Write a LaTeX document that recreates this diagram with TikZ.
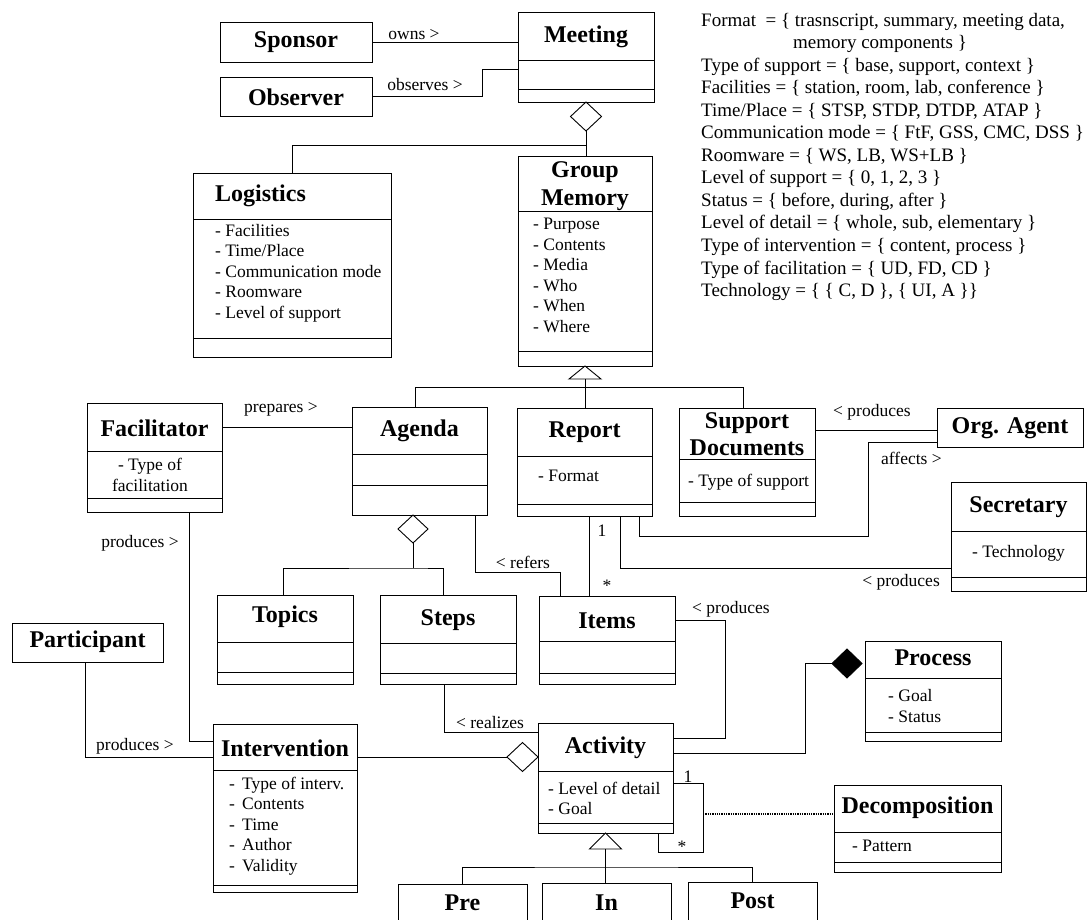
\documentclass[tikz,border=0pt]{standalone}
\usepackage{fontspec}
\setmainfont{Liberation Serif}
\usetikzlibrary{calc,shapes.geometric}
\tikzset{
  wire/.style={line width=0.9pt},
  box/.style={draw, line width=0.9pt, inner sep=0pt, outer sep=0pt, anchor=north west, rectangle},
  ttl/.style={font=\fontsize{24}{27.5}\selectfont\bfseries, inner sep=0pt, align=center},
  att/.style={font=\fontsize{17.5}{20.6}\selectfont, inner sep=0pt, anchor=west},
  lbl/.style={font=\fontsize{17.5}{20}\selectfont, inner sep=0pt},
  leg/.style={font=\fontsize{19}{22.5}\selectfont, inner sep=0pt, anchor=base west},
  agg/.style={draw, diamond, line width=0.9pt, fill=white, inner sep=0pt, outer sep=0pt, minimum width=31pt, minimum height=29pt},
  comp/.style={agg, fill=black},
}
\newcommand\umlbox[5]{\node[box, minimum width={#4-#2}, minimum height={#5-#3}] (#1) at (#2,#3) {};}
\newcommand\umldiv[2]{\foreach \divy in {#2} {\draw[wire] (#1.west |- 0,\divy) -- (#1.east |- 0,\divy);}}
\begin{document}
\begin{tikzpicture}[x=1pt,y=-1pt]
\useasboundingbox (0,0) rectangle (1089,920);
\clip (0,0) rectangle (1089,920);

% ---------- class boxes ----------
\umlbox{sponsor}{220}{22}{372}{62}
\umlbox{observer}{220}{77}{372}{116}
\umlbox{meeting}{518}{12}{654}{102} \umldiv{meeting}{60,89}
\umlbox{logistics}{193}{173}{391}{357} \umldiv{logistics}{219,338}
\umlbox{gm}{518}{156}{652}{366} \umldiv{gm}{211,351}
\umlbox{facilitator}{87}{403}{222}{512} \umldiv{facilitator}{451,498}
\umlbox{agenda}{352}{407}{487}{515} \umldiv{agenda}{454,485}
\umlbox{report}{517}{408}{652}{516} \umldiv{report}{456,504}
\umlbox{suppdoc}{679}{408}{815}{516} \umldiv{suppdoc}{459,502}
\umlbox{orgagent}{937}{408}{1083}{447}
\umlbox{secretary}{951}{482}{1086}{591} \umldiv{secretary}{531,577}
\umlbox{topics}{217}{595}{353}{684} \umldiv{topics}{642,672}
\umlbox{steps}{380}{595}{516}{684} \umldiv{steps}{643,673}
\umlbox{items}{539}{596}{675}{684} \umldiv{items}{641,673}
\umlbox{participant}{12}{623}{163}{662}
\umlbox{process}{865}{641}{1001}{741} \umldiv{process}{678,732}
\umlbox{intervention}{213}{724}{357}{892} \umldiv{intervention}{770,885}
\umlbox{activity}{538}{723}{673}{833} \umldiv{activity}{771,823}
\umlbox{decomp}{834}{785}{1001}{872} \umldiv{decomp}{832,862}
\umlbox{pre}{398}{884}{527}{960}
\umlbox{inph}{542}{883}{671}{960}
\umlbox{post}{688}{882}{817}{960}

% ---------- titles ----------
\node[ttl] (sponsor-t) at (296,42) {Sponsor};
\node[ttl] (observer-t) at (296,97) {Observer};
\node[ttl] (meeting-t) at (586,37) {Meeting};
\node[ttl, anchor=west] (logistics-t) at (215,196) {Logistics};
\node[ttl, font=\fontsize{24}{28}\selectfont\bfseries] (gm-t) at (585,186) {Group\\Memory};
\node[ttl] (facilitator-t) at (154.5,428) {Facilitator};
\node[ttl] (agenda-t) at (419.5,431) {Agenda};
\node[ttl] (report-t) at (584.5,432) {Report};
\node[ttl, font=\fontsize{24}{27}\selectfont\bfseries] (suppdoc-t) at (747,434) {Support\\Documents};
\node[ttl] (orgagent-t) at (1010,428) {Org. Agent};
\node[ttl] (secretary-t) at (1018.5,507) {Secretary};
\node[ttl] (topics-t) at (285,617) {Topics};
\node[ttl] (steps-t) at (448,620) {Steps};
\node[ttl] (items-t) at (607,621) {Items};
\node[ttl] (participant-t) at (87.5,642) {Participant};
\node[ttl] (process-t) at (933,658) {Process};
\node[ttl] (intervention-t) at (285,748) {Intervention};
\node[ttl] (activity-t) at (605.5,748) {Activity};
\node[ttl] (decomp-t) at (917.5,808) {Decomposition};
\node[ttl] (pre-t) at (462.5,903) {Pre};
\node[ttl] (in-t) at (606.5,903) {In};
\node[ttl] (post-t) at (752.5,901) {Post};

% ---------- attributes ----------
\node[att, align=left] (logistics-a) at (215,273) {- Facilities\\- Time/Place\\- Communication mode\\- Roomware\\- Level of support};
\node[att, align=left] (gm-a) at (533,275.5) {- Purpose\\- Contents\\- Media\\- Who\\- When\\- Where};
\node[att, align=center, anchor=center] (facilitator-a) at (150,475) {- Type of\\facilitation};
\node[att] (report-a) at (538,476) {- Format};
\node[att] (suppdoc-a) at (688,482) {- Type of support};
\node[att, anchor=center] (secretary-a) at (1018.5,553) {- Technology};
\node[att, align=left] (process-a) at (888,706) {- Goal\\- Status};
\node[att, align=left] (intervention-a) at (229,826) {-\hspace{7.2pt}Type of interv.\\-\hspace{7.2pt}Contents\\-\hspace{7.2pt}Time\\-\hspace{7.2pt}Author\\-\hspace{7.2pt}Validity};
\node[att, align=left] (activity-a) at (548,798.5) {- Level of detail\\- Goal};
\node[att] (decomp-a) at (852,846) {- Pattern};

% ---------- diamonds and triangles ----------
\node[agg] (mdia) at (586,116.5) {};
\node[agg, minimum width=30pt, minimum height=28pt] (adia) at (413,529) {};
\node[agg] (idia) at (522.5,757) {};
\node[comp, minimum width=30pt] (pdia) at (847,663.5) {};
\draw[wire, fill=white] (gm.south) -- ++(16,13) -- ++(-32,0) -- cycle;
\coordinate (gmtb) at ($(gm.south)+(0,13)$);
\draw[wire, fill=white] (activity.south) -- ++(16,16) -- ++(-32,0) -- cycle;
\coordinate (acttb) at ($(activity.south)+(0,16)$);

% ---------- connectors ----------
\draw[wire] (sponsor.east) -- (meeting.west |- sponsor.east);
\node[lbl] (owns-l) at (414,35) {owns >};
\draw[wire] (observer.east) -- ++(110,0) |- (meeting.west |- 0,69);
\node[lbl] (observes-l) at (425,85) {observes >};

\coordinate (mj) at ($(mdia.south)+(0,14)$);
\draw[wire] (mdia.south) -- (mj) -| (logistics.north);
\draw[wire] (mj) -- (mj |- gm.north);

\coordinate (ac) at ($(agenda.north)+(-4,0)$);
\coordinate (sdc) at ($(suppdoc.north)+(-4,0)$);
\draw[wire] (gmtb) -- (gmtb |- report.north);
\draw[wire] (ac) |- (sdc |- 0,387) -- (sdc);

\draw[wire] (facilitator.east |- 0,427) -- (agenda.west |- 0,427);
\node[lbl] (prepares-l) at (281,409) {prepares >};

\coordinate (aj) at ($(adia.south)+(0,25)$);
\coordinate (tc) at ($(topics.north west)+(66,0)$);
\coordinate (sc) at ($(steps.north west)+(63,0)$);
\draw[wire] (adia.south) -- (aj);
\draw[wire] (tc) |- (aj) -| (sc);

\coordinate (ar) at ($(agenda.south west)+(123,0)$);
\coordinate (ir) at ($(items.north west)+(21,0)$);
\draw[wire] (ar) |- ($(ir)+(0,-24)$) -- (ir);
\node[lbl] (refers-l) at (523,562) {< refers};

\draw[wire] ($(report.south west)+(72,0)$) -- ($(items.north west)+(50,0)$);
\node[lbl] (one-a) at (602,531) {1};
\node[lbl] (star-a) at (607,586) {*};

\draw[wire] ($(report.south west)+(103,0)$) |- (secretary.west |- 0,568);
\node[lbl, anchor=east] (prod2-l) at (940,582) {< produces};

\draw[wire] (suppdoc.east |- 0,430) -- (orgagent.west |- 0,430);
\node[lbl, anchor=west] (prod1-l) at (833,412) {< produces};

\draw[wire] (orgagent.west |- 0,442) -| (868,536) -| ($(report.south east)+(-13,0)$);
\node[lbl, anchor=west] (affects-l) at (881,458) {affects >};

\draw[wire] ($(facilitator.south west)+(102,0)$) |- (intervention.west |- 0,741);
\node[lbl] (prod3-l) at (140,543) {produces >};

\draw[wire] ($(participant.south west)+(73,0)$) |- (intervention.west |- 0,757);
\node[lbl, anchor=west] (prod4-l) at (96,746) {produces >};

\draw[wire] (intervention.east |- idia.west) -- (idia.west);

\draw[wire] ($(steps.south west)+(64,0)$) |- (activity.west |- 0,732);
\node[lbl] (realizes-l) at (490,723) {< realizes};

\draw[wire] (items.east |- 0,620) -| (725,738) -- (activity.east |- 0,738);
\node[lbl, anchor=west] (prod5-l) at (692,609) {< produces};

\draw[wire] (activity.east |- 0,753) -| (805,663.5) -- (pdia.west);

\draw[wire] (activity.east |- 0,783) -| (703,852) -| ($(activity.south west)+(120,0)$);
\node[lbl] (one-b) at (688,777) {1};
\node[lbl] (star-b) at (682,847) {*};
\draw[line width=1.3pt, densely dotted] (703,814) -- (decomp.west |- 0,814);

\coordinate (ij) at (acttb |- 0,867);
\draw[wire] (acttb) -- (acttb |- inph.north);
\draw[wire] (pre.north) |- (ij) -| (post.north);

% ---------- legend ----------
\node[leg] (leg1) at (701,26.5) {Format\ \ = \{ trasnscript, summary, meeting data,};
\node[leg] (leg2) at (793,49) {memory components \}};
\node[leg] (leg3) at (701,71.5) {Type of support = \{ base, support, context \}};
\node[leg] (leg4) at (701,94) {Facilities = \{ station, room, lab, conference \}};
\node[leg] (leg5) at (701,116.5) {Time/Place = \{ STSP, STDP, DTDP, ATAP \}};
\node[leg] (leg6) at (701,139) {Communication mode = \{ FtF, GSS, CMC, DSS \}};
\node[leg] (leg7) at (701,161.5) {Roomware = \{ WS, LB, WS+LB \}};
\node[leg] (leg8) at (701,184) {Level of support = \{ 0, 1, 2, 3 \}};
\node[leg] (leg9) at (701,206.5) {Status = \{ before, during, after \}};
\node[leg] (leg10) at (701,229) {Level of detail = \{ whole, sub, elementary \}};
\node[leg] (leg11) at (701,251.5) {Type of intervention = \{ content, process \}};
\node[leg] (leg12) at (701,274) {Type of facilitation = \{ UD, FD, CD \}};
\node[leg] (leg13) at (701,296.5) {Technology = \{ \{ C, D \}, \{ UI, A \}\}};
\end{tikzpicture}
\end{document}
